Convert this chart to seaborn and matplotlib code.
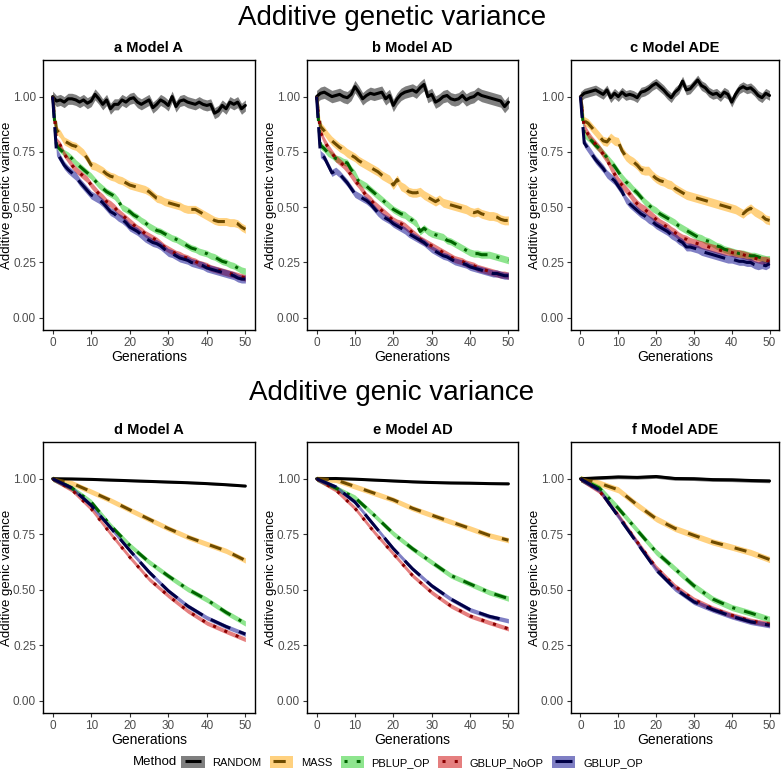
import pandas as pd
import matplotlib
matplotlib.use("Agg")
import matplotlib.pyplot as plt
import seaborn as sns
from matplotlib.patches import Patch
from matplotlib.lines import Line2D
from matplotlib.legend_handler import HandlerTuple, HandlerLine2D

# generations
gens = list(range(51))
gens_genic = list(range(0, 51, 5))

methods = ["RANDOM", "MASS", "PBLUP_OP", "GBLUP_NoOP", "GBLUP_OP"]

# ---- additive genetic variance (top row), one value per generation ----
a_random = [1.00, 0.98, 0.985, 0.975, 0.99, 0.99, 0.985, 0.975, 0.985, 0.97, 0.98, 1.01, 0.99, 0.965, 0.985, 0.945,
            0.965, 0.965, 0.985, 0.975, 0.99, 0.995, 0.975, 0.965, 0.975, 0.985, 0.95, 0.965, 0.985, 0.975, 0.96,
            1.00, 0.955, 0.98, 0.985, 0.975, 0.97, 0.965, 0.975, 0.965, 0.96, 0.965, 0.925, 0.935, 0.96, 0.945,
            0.975, 0.965, 0.975, 0.945, 0.96]
a_mass = [1.00, 0.85, 0.83, 0.80, 0.79, 0.78, 0.775, 0.76, 0.745, 0.72, 0.69, 0.685, 0.675, 0.665, 0.65, 0.64,
          0.635, 0.625, 0.62, 0.61, 0.60, 0.595, 0.59, 0.585, 0.58, 0.57, 0.555, 0.54, 0.535, 0.525, 0.52,
          0.515, 0.51, 0.505, 0.495, 0.49, 0.49, 0.49, 0.48, 0.47, 0.46, 0.45, 0.44, 0.435, 0.435, 0.435,
          0.43, 0.43, 0.425, 0.41, 0.40]
a_pblup = [1.00, 0.78, 0.76, 0.745, 0.735, 0.72, 0.70, 0.685, 0.67, 0.655, 0.64, 0.62, 0.60, 0.585, 0.57, 0.56,
           0.55, 0.53, 0.50, 0.49, 0.48, 0.465, 0.455, 0.44, 0.43, 0.415, 0.405, 0.395, 0.39, 0.38, 0.37,
           0.36, 0.355, 0.345, 0.335, 0.325, 0.315, 0.31, 0.30, 0.295, 0.29, 0.28, 0.275, 0.265, 0.255, 0.25,
           0.24, 0.235, 0.225, 0.215, 0.21]
a_noop = [1.00, 0.80, 0.78, 0.74, 0.715, 0.69, 0.67, 0.655, 0.64, 0.625, 0.60, 0.58, 0.56, 0.545, 0.525, 0.515,
          0.50, 0.48, 0.465, 0.45, 0.435, 0.42, 0.405, 0.395, 0.38, 0.37, 0.36, 0.35, 0.335, 0.32, 0.31,
          0.30, 0.29, 0.285, 0.275, 0.27, 0.26, 0.255, 0.245, 0.24, 0.235, 0.225, 0.22, 0.215, 0.21, 0.205,
          0.20, 0.195, 0.19, 0.185, 0.18]
a_op = [1.00, 0.75, 0.72, 0.69, 0.67, 0.655, 0.64, 0.615, 0.595, 0.575, 0.555, 0.545, 0.535, 0.52, 0.50, 0.48,
        0.47, 0.455, 0.445, 0.43, 0.41, 0.40, 0.39, 0.375, 0.36, 0.35, 0.34, 0.335, 0.325, 0.31, 0.295,
        0.29, 0.28, 0.27, 0.265, 0.26, 0.25, 0.245, 0.24, 0.235, 0.225, 0.22, 0.215, 0.21, 0.205, 0.20,
        0.195, 0.19, 0.18, 0.175, 0.175]

b_random = [1.00, 1.015, 1.02, 1.01, 1.00, 1.005, 1.01, 1.00, 0.995, 1.01, 1.045, 1.02, 0.99, 1.005, 1.015, 1.01,
            1.015, 1.02, 0.99, 1.005, 0.96, 0.99, 1.01, 1.02, 1.025, 1.03, 1.02, 1.04, 1.055, 1.00, 1.01,
            0.975, 0.985, 1.00, 1.005, 0.99, 0.985, 0.99, 1.005, 0.985, 0.995, 1.00, 1.015, 1.005, 1.00, 0.995,
            0.99, 0.985, 0.98, 0.955, 0.975]
b_mass = [1.00, 0.865, 0.845, 0.82, 0.80, 0.785, 0.77, 0.76, 0.745, 0.735, 0.725, 0.71, 0.70, 0.69, 0.68, 0.67,
          0.66, 0.645, 0.635, 0.625, 0.60, 0.625, 0.595, 0.585, 0.57, 0.565, 0.565, 0.57, 0.555, 0.545, 0.535,
          0.525, 0.535, 0.52, 0.515, 0.51, 0.505, 0.50, 0.495, 0.49, 0.48, 0.475, 0.48, 0.47, 0.465, 0.46,
          0.46, 0.455, 0.445, 0.44, 0.44]
b_pblup = [1.00, 0.78, 0.765, 0.745, 0.735, 0.72, 0.715, 0.705, 0.70, 0.67, 0.65, 0.615, 0.605, 0.595, 0.58, 0.565,
           0.55, 0.535, 0.52, 0.505, 0.49, 0.48, 0.47, 0.465, 0.45, 0.44, 0.425, 0.39, 0.405, 0.39, 0.38,
           0.375, 0.37, 0.365, 0.35, 0.345, 0.335, 0.325, 0.315, 0.305, 0.295, 0.29, 0.29, 0.285, 0.285, 0.285,
           0.28, 0.275, 0.27, 0.265, 0.26]
b_noop = [1.00, 0.84, 0.80, 0.77, 0.745, 0.72, 0.705, 0.69, 0.67, 0.645, 0.62, 0.60, 0.575, 0.55, 0.535, 0.515,
          0.50, 0.485, 0.47, 0.455, 0.44, 0.43, 0.425, 0.415, 0.40, 0.385, 0.37, 0.355, 0.345, 0.335, 0.325,
          0.315, 0.305, 0.295, 0.285, 0.275, 0.265, 0.26, 0.255, 0.245, 0.24, 0.235, 0.225, 0.22, 0.215, 0.21,
          0.205, 0.20, 0.195, 0.195, 0.19]
b_op = [1.00, 0.74, 0.725, 0.69, 0.655, 0.665, 0.65, 0.63, 0.61, 0.585, 0.56, 0.55, 0.54, 0.53, 0.515, 0.495,
        0.475, 0.46, 0.45, 0.44, 0.425, 0.415, 0.405, 0.395, 0.38, 0.37, 0.36, 0.35, 0.34, 0.325, 0.31,
        0.30, 0.29, 0.28, 0.275, 0.265, 0.255, 0.25, 0.245, 0.24, 0.23, 0.225, 0.22, 0.215, 0.21, 0.205,
        0.20, 0.20, 0.195, 0.19, 0.19]

c_random = [1.00, 1.015, 1.02, 1.025, 1.03, 1.02, 1.01, 1.03, 0.995, 1.015, 1.00, 1.02, 1.005, 1.01, 1.005, 0.995,
            1.02, 1.025, 1.035, 1.05, 1.06, 1.045, 1.03, 1.01, 0.995, 1.02, 1.035, 1.07, 1.03, 1.035, 1.055,
            1.075, 1.05, 1.04, 1.02, 1.01, 1.015, 1.00, 1.02, 1.01, 0.975, 1.01, 1.035, 1.045, 1.035, 1.04,
            1.025, 1.005, 0.995, 1.015, 1.005]
c_mass = [1.00, 0.89, 0.88, 0.86, 0.84, 0.82, 0.80, 0.795, 0.815, 0.80, 0.795, 0.755, 0.73, 0.715, 0.705, 0.69,
          0.67, 0.665, 0.665, 0.645, 0.63, 0.62, 0.615, 0.605, 0.60, 0.585, 0.575, 0.565, 0.555, 0.55, 0.545,
          0.54, 0.535, 0.53, 0.525, 0.52, 0.515, 0.51, 0.505, 0.50, 0.495, 0.49, 0.48, 0.47, 0.485, 0.495,
          0.48, 0.47, 0.46, 0.445, 0.44]
c_pblup = [1.00, 0.83, 0.815, 0.80, 0.78, 0.765, 0.745, 0.725, 0.705, 0.685, 0.66, 0.635, 0.615, 0.60, 0.58, 0.565,
           0.545, 0.525, 0.51, 0.495, 0.485, 0.47, 0.46, 0.45, 0.44, 0.43, 0.415, 0.405, 0.395, 0.385, 0.375,
           0.365, 0.36, 0.35, 0.345, 0.335, 0.325, 0.32, 0.31, 0.305, 0.30, 0.295, 0.29, 0.29, 0.285, 0.28,
           0.28, 0.275, 0.27, 0.265, 0.265]
c_noop = [1.00, 0.86, 0.83, 0.805, 0.785, 0.765, 0.74, 0.715, 0.68, 0.65, 0.62, 0.60, 0.58, 0.56, 0.535, 0.515,
          0.50, 0.49, 0.475, 0.46, 0.445, 0.43, 0.42, 0.41, 0.395, 0.385, 0.37, 0.36, 0.355, 0.345, 0.34,
          0.335, 0.33, 0.325, 0.32, 0.315, 0.31, 0.305, 0.30, 0.30, 0.295, 0.29, 0.29, 0.285, 0.28, 0.275,
          0.27, 0.265, 0.26, 0.26, 0.255]
c_op = [1.00, 0.79, 0.765, 0.74, 0.715, 0.695, 0.675, 0.65, 0.635, 0.62, 0.595, 0.57, 0.535, 0.515, 0.50, 0.485,
        0.47, 0.46, 0.445, 0.435, 0.42, 0.41, 0.40, 0.39, 0.375, 0.365, 0.35, 0.34, 0.32, 0.32, 0.315,
        0.31, 0.30, 0.295, 0.29, 0.285, 0.28, 0.275, 0.27, 0.265, 0.265, 0.26, 0.255, 0.255, 0.25, 0.25,
        0.24, 0.235, 0.24, 0.235, 0.245]

# ---- additive genic variance (bottom row), every 5 generations ----
d_random = [1.00, 0.999, 0.997, 0.994, 0.991, 0.988, 0.985, 0.982, 0.978, 0.973, 0.967]
d_mass = [1.00, 0.98, 0.942, 0.903, 0.86, 0.818, 0.776, 0.738, 0.706, 0.675, 0.632]
d_pblup = [1.00, 0.958, 0.895, 0.79, 0.70, 0.625, 0.562, 0.503, 0.455, 0.398, 0.348]
d_noop = [1.00, 0.95, 0.865, 0.753, 0.647, 0.548, 0.473, 0.405, 0.35, 0.312, 0.276]
d_op = [1.00, 0.958, 0.88, 0.78, 0.677, 0.58, 0.495, 0.427, 0.374, 0.334, 0.30]

e_random = [1.00, 1.001, 0.998, 0.994, 0.99, 0.986, 0.983, 0.981, 0.98, 0.978, 0.977]
e_mass = [1.00, 0.995, 0.965, 0.935, 0.905, 0.867, 0.836, 0.806, 0.776, 0.745, 0.723]
e_pblup = [1.00, 0.958, 0.915, 0.836, 0.753, 0.685, 0.624, 0.564, 0.526, 0.488, 0.46]
e_noop = [1.00, 0.95, 0.867, 0.76, 0.662, 0.564, 0.488, 0.427, 0.382, 0.352, 0.324]
e_op = [1.00, 0.963, 0.895, 0.79, 0.685, 0.594, 0.518, 0.458, 0.41, 0.38, 0.36]

f_random = [1.00, 1.004, 1.008, 1.006, 1.01, 1.001, 1.0, 0.996, 0.995, 0.992, 0.99]
f_mass = [1.00, 0.98, 0.95, 0.882, 0.82, 0.776, 0.745, 0.715, 0.692, 0.668, 0.636]
f_pblup = [1.00, 0.958, 0.867, 0.768, 0.67, 0.594, 0.518, 0.458, 0.42, 0.395, 0.367]
f_noop = [1.00, 0.945, 0.835, 0.715, 0.60, 0.515, 0.455, 0.415, 0.385, 0.36, 0.345]
f_op = [1.00, 0.95, 0.83, 0.71, 0.59, 0.505, 0.445, 0.41, 0.38, 0.355, 0.34]

# ribbon half widths per method (RANDOM, MASS, PBLUP_OP, GBLUP_NoOP, GBLUP_OP)
a_se = [0.025, 0.018, 0.015, 0.015, 0.018]
b_se = [0.028, 0.02, 0.016, 0.016, 0.016]
c_se = [0.022, 0.02, 0.016, 0.018, 0.018]
d_se = [0.004, 0.012, 0.012, 0.01, 0.01]
e_se = [0.004, 0.012, 0.012, 0.01, 0.01]
f_se = [0.008, 0.014, 0.014, 0.012, 0.012]

panel_titles = ["a Model A", "b Model AD", "c Model ADE", "d Model A", "e Model AD", "f Model ADE"]
row_titles = ["Additive genetic variance", "Additive genic variance"]
y_labels = ["Additive genetic variance", "Additive genic variance"]

panels = [
    (gens, [a_random, a_mass, a_pblup, a_noop, a_op], a_se),
    (gens, [b_random, b_mass, b_pblup, b_noop, b_op], b_se),
    (gens, [c_random, c_mass, c_pblup, c_noop, c_op], c_se),
    (gens_genic, [d_random, d_mass, d_pblup, d_noop, d_op], d_se),
    (gens_genic, [e_random, e_mass, e_pblup, e_noop, e_op], e_se),
    (gens_genic, [f_random, f_mass, f_pblup, f_noop, f_op], f_se),
]

rows = []
for p, (x, series, se) in enumerate(panels):
    for m, vals, s in zip(methods, series, se):
        for g, v in zip(x, vals):
            rows.append({"panel": p, "Method": m, "Generations": g, "value": v, "se": s})
df = pd.DataFrame(rows)

# colours / line types
fill_colors = {"RANDOM": "#000000", "MASS": "#FFA500", "PBLUP_OP": "#1FCC1F",
               "GBLUP_NoOP": "#CC0000", "GBLUP_OP": "#00008B"}
line_colors = {"RANDOM": "#000000", "MASS": "#6E4B00", "PBLUP_OP": "#006400",
               "GBLUP_NoOP": "#8B0000", "GBLUP_OP": "#000046"}
dash_map = {"RANDOM": "", "MASS": (4, 4), "PBLUP_OP": (1, 3, 4, 3),
            "GBLUP_NoOP": (1, 3), "GBLUP_OP": (7, 3)}

sns.set_theme(style="white")
plt.rcParams["font.family"] = ["Liberation Sans", "DejaVu Sans"]
plt.rcParams["text.color"] = "black"
plt.rcParams["axes.labelcolor"] = "black"

fig = plt.figure(figsize=(7.84, 7.70), dpi=100)
W, H = 784, 770
lefts = [(43, 255), (307, 518), (571, 779)]
tops = [(60, 330), (442, 713)]

for p in range(6):
    r, c = divmod(p, 3)
    l, rgt = lefts[c]
    t, b = tops[r]
    ax = fig.add_axes([l / W, 1 - b / H, (rgt - l) / W, (b - t) / H])
    sub = df[df.panel == p]
    for m in methods:
        d = sub[sub.Method == m]
        ax.fill_between(d.Generations, d.value - d.se, d.value + d.se,
                        color=fill_colors[m], alpha=0.5, lw=0)
    sns.lineplot(data=sub, x="Generations", y="value", hue="Method", style="Method",
                 hue_order=methods, style_order=methods, palette=line_colors, dashes=dash_map,
                 estimator=None, errorbar=None, linewidth=2.2, legend=False, ax=ax)
    ax.set_xlim(-2.5, 52.5)
    ax.set_ylim(-0.0555, 1.1655)
    ax.set_xticks([0, 10, 20, 30, 40, 50])
    ax.set_yticks([0, 0.25, 0.5, 0.75, 1.0])
    ax.set_yticklabels(["0.00", "0.25", "0.50", "0.75", "1.00"])
    ax.tick_params(axis="both", direction="out", length=3, width=0.8, color="#333333",
                   labelsize=8.5, labelcolor="#4D4D4D", pad=2, bottom=True, left=True)
    for sp in ax.spines.values():
        sp.set_color("black")
        sp.set_linewidth(1.0)
    ax.set_xlabel("Generations", fontsize=10, labelpad=1)
    ax.set_ylabel(y_labels[r], fontsize=9.5, labelpad=0)
    ax.set_title(panel_titles[p], fontsize=10.5, fontweight="bold", pad=6)

fig.text(0.5, 1 - 18 / H, row_titles[0], ha="center", va="center", fontsize=20)
fig.text(0.5, 1 - 393 / H, row_titles[1], ha="center", va="center", fontsize=20)


class ShortLine(HandlerLine2D):
    # line key drawn a bit shorter than the ribbon box behind it
    def create_artists(self, legend, orig_handle, xdescent, ydescent, width, height, fontsize, trans):
        return super().create_artists(legend, orig_handle, xdescent - 0.15 * width, ydescent,
                                      0.7 * width, height, fontsize, trans)


# legend: ribbon colour box with the line type drawn over it
handles = []
for m in methods:
    patch = Patch(facecolor=fill_colors[m], alpha=0.5, edgecolor="none")
    if dash_map[m]:
        line = Line2D([], [], color=line_colors[m], lw=2.2, dashes=dash_map[m])
    else:
        line = Line2D([], [], color=line_colors[m], lw=2.2, linestyle="-", solid_capstyle="butt")
    handles.append((patch, line))
fig.legend(handles, methods,
           handler_map={tuple: HandlerTuple(ndivide=1, pad=0), Line2D: ShortLine()},
           loc="center", bbox_to_anchor=(412 / W, 1 - 762 / H), ncol=5,
           frameon=False, fontsize=8, handlelength=2.1, handleheight=1.3,
           handletextpad=0.7, columnspacing=0.75, borderpad=0.1)
fig.text(177 / W, 1 - 762 / H, "Method", ha="right", va="center", fontsize=9.5)

fig.savefig("out.png", dpi=100)
